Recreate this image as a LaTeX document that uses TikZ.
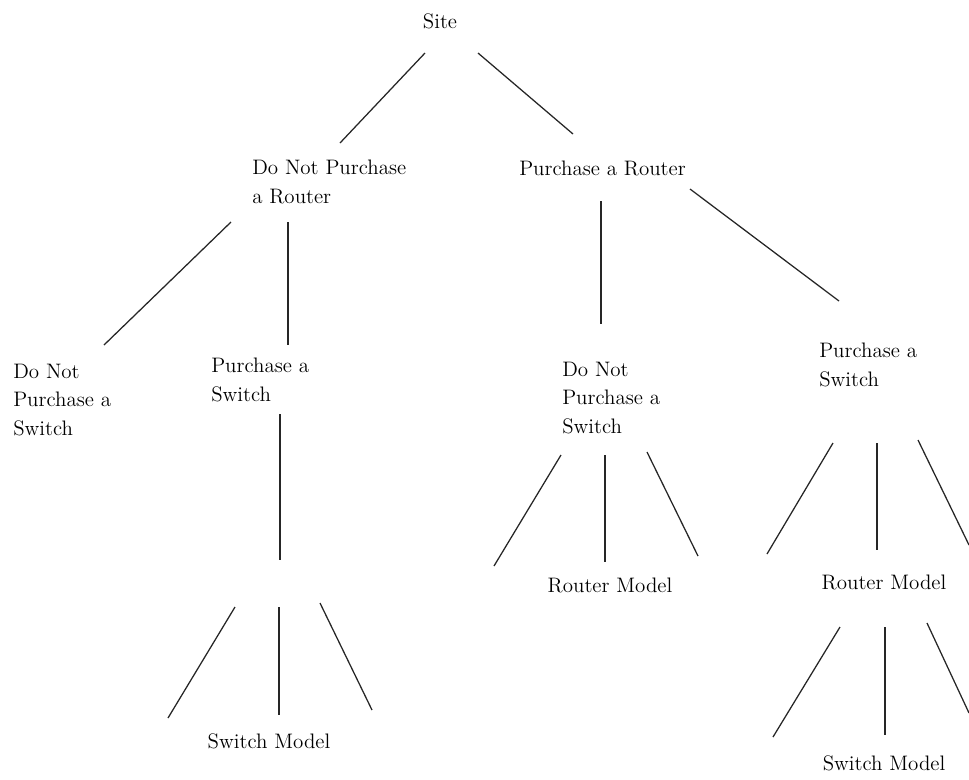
\documentclass[tikz,border=0pt]{standalone}
\usepackage{tikz}
\tikzstyle{choice}=[align=left, anchor=west, inner sep=0pt, font=\fontsize{14.9}{20}\selectfont]
\tikzstyle{model}=[inner sep=0pt, font=\fontsize{14.9}{20}\selectfont]
\tikzstyle{branch}=[line width=0.9pt, color=black!85]

\begin{document}
\begin{tikzpicture}[x=0.025cm, y=-0.025cm]
\useasboundingbox (0,0) rectangle (969,779);

\node[model] (site) at (440,21) {Site};
\node[choice] (no_router) at (252,182) {Do Not Purchase\\a Router};
\node[choice] (router) at (519,168) {Purchase a Router};
\node[choice] (no_switch_a) at (13,400) {Do Not\\Purchase a\\Switch};
\node[choice] (switch_a) at (211,380) {Purchase a\\Switch};
\node[choice] (no_switch_b) at (562,398) {Do Not\\Purchase a\\Switch};
\node[choice] (switch_b) at (819,365) {Purchase a\\Switch};
\node[model] (switch_model_a) at (269,741) {Switch Model};
\node[model] (router_model_a) at (610,585) {Router Model};
\node[model] (router_model_b) at (884,582) {Router Model};
\node[model] (switch_model_b) at (884,763) {Switch Model};

% free ends of the branches
\coordinate (s1) at (425,53);  \coordinate (s2) at (340,143);
\coordinate (s3) at (478,53);  \coordinate (s4) at (573,134);
\coordinate (n1) at (231,222); \coordinate (n2) at (104,345);
\coordinate (n3) at (288,222); \coordinate (n4) at (288,345);
\coordinate (r1) at (601,201); \coordinate (r2) at (601,324);
\coordinate (r3) at (690,189); \coordinate (r4) at (839,301);
\coordinate (w1) at (280,414); \coordinate (w2) at (280,560);
\coordinate (m1) at (235,607); \coordinate (m2) at (168,718);
\coordinate (m3) at (279,607); \coordinate (m4) at (279,715);
\coordinate (m5) at (320,603); \coordinate (m6) at (372,710);
\coordinate (k1) at (561,455); \coordinate (k2) at (494,566);
\coordinate (k3) at (605,455); \coordinate (k4) at (605,562);
\coordinate (k5) at (647,452); \coordinate (k6) at (698,556);
\coordinate (p1) at (833,443); \coordinate (p2) at (767,554);
\coordinate (p3) at (877,443); \coordinate (p4) at (877,550);
\coordinate (p5) at (918,440); \coordinate (p6) at (969,545);
\coordinate (q1) at (840,627); \coordinate (q2) at (773,737);
\coordinate (q3) at (885,627); \coordinate (q4) at (885,735);
\coordinate (q5) at (927,623); \coordinate (q6) at (969,713);

\draw[branch] (s1)--(s2);
\draw[branch] (s3)--(s4);
\draw[branch] (n1)--(n2);
\draw[branch] (n3)--(n4);
\draw[branch] (r1)--(r2);
\draw[branch] (r3)--(r4);
\draw[branch] (w1)--(w2);
\draw[branch] (m1)--(m2);
\draw[branch] (m3)--(m4);
\draw[branch] (m5)--(m6);
\draw[branch] (k1)--(k2);
\draw[branch] (k3)--(k4);
\draw[branch] (k5)--(k6);
\draw[branch] (p1)--(p2);
\draw[branch] (p3)--(p4);
\draw[branch] (p5)--(p6);
\draw[branch] (q1)--(q2);
\draw[branch] (q3)--(q4);
\draw[branch] (q5)--(q6);
\end{tikzpicture}
\end{document}
